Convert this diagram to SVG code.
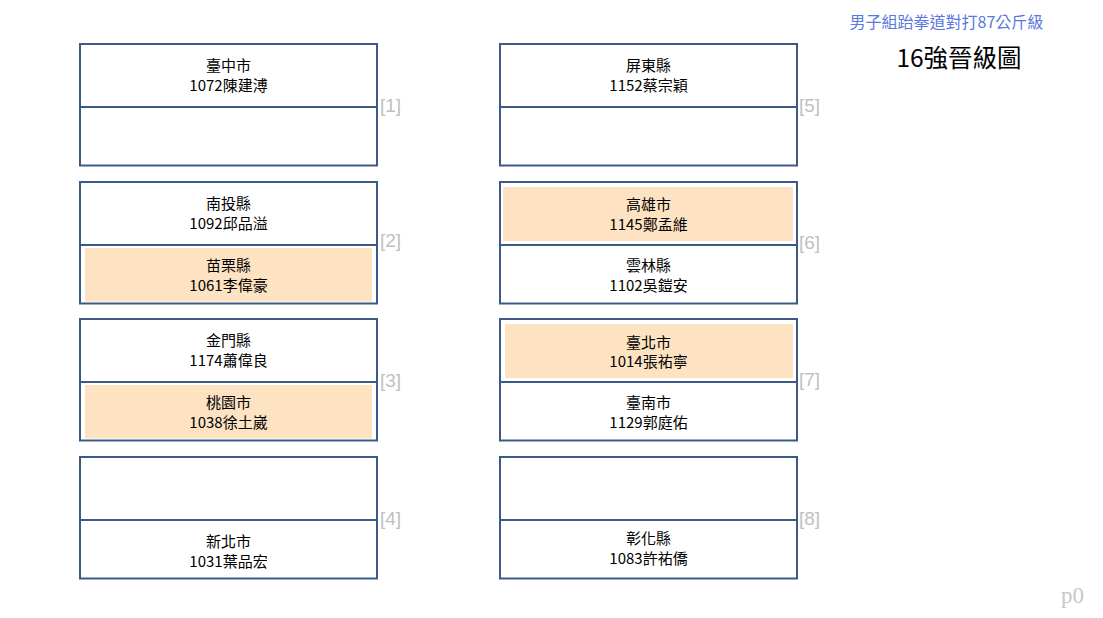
<svg xmlns="http://www.w3.org/2000/svg" width="1103" height="618" viewBox="0 0 1103 618">
<style>
.box{fill:#ffffff;stroke:#3b5a88;stroke-width:2}
.div{stroke:#3b5a88;stroke-width:2}
.win{fill:#fde3c2}
.t{font-family:"Noto Sans CJK TC","Noto Sans CJK SC",sans-serif;font-size:15px;fill:#000;text-anchor:middle}
.lbl{font-family:"Liberation Sans","Noto Sans CJK TC",sans-serif;font-size:19px;fill:#c0c0c0}
.title{font-family:"Noto Sans CJK TC",sans-serif;font-size:16px;fill:#5a78e0;text-anchor:middle}
.sub{font-family:"Noto Sans CJK TC",sans-serif;font-size:24.5px;fill:#000;text-anchor:middle}
.pg{font-family:"Liberation Serif",serif;font-size:23px;fill:#c8c8c8}
</style>
<rect width="1103" height="618" fill="#ffffff"/>
<text class="title" x="946.5" y="28">男子組跆拳道對打87公斤級</text>
<text class="sub" x="959" y="67">16強晉級圖</text>
<g id="connectors"></g>
<g id="m1">
<rect class="box" x="80" y="44" width="297" height="121.5"/>
<line class="div" x1="80" y1="107" x2="377" y2="107"/>
<text class="t" x="228.5" y="70.5">臺中市</text>
<text class="t" x="228.5" y="90.5">1072陳建溥</text>
<text class="lbl" x="380" y="112">[1]</text>
</g>
<g id="m2">
<rect class="box" x="80" y="182" width="297" height="121.5"/>
<line class="div" x1="80" y1="245" x2="377" y2="245"/>
<rect class="win" x="85" y="248" width="287" height="53.5"/>
<text class="t" x="228.5" y="208.5">南投縣</text>
<text class="t" x="228.5" y="228.5">1092邱品溢</text>
<text class="t" x="228.5" y="270.5">苗栗縣</text>
<text class="t" x="228.5" y="290.5">1061李偉豪</text>
<text class="lbl" x="380" y="247">[2]</text>
</g>
<g id="m3">
<rect class="box" x="80" y="319" width="297" height="121.5"/>
<line class="div" x1="80" y1="382" x2="377" y2="382"/>
<rect class="win" x="85" y="385" width="287" height="53.5"/>
<text class="t" x="228.5" y="345.5">金門縣</text>
<text class="t" x="228.5" y="365.5">1174蕭偉良</text>
<text class="t" x="228.5" y="407.5">桃園市</text>
<text class="t" x="228.5" y="427.5">1038徐土崴</text>
<text class="lbl" x="380" y="387">[3]</text>
</g>
<g id="m4">
<rect class="box" x="80" y="457" width="297" height="121.5"/>
<line class="div" x1="80" y1="520" x2="377" y2="520"/>
<text class="t" x="228.5" y="546.5">新北市</text>
<text class="t" x="228.5" y="566.5">1031葉品宏</text>
<text class="lbl" x="380" y="525">[4]</text>
</g>
<g id="m5">
<rect class="box" x="500" y="44" width="297" height="121.5"/>
<line class="div" x1="500" y1="107" x2="797" y2="107"/>
<text class="t" x="648.5" y="70.5">屏東縣</text>
<text class="t" x="648.5" y="90.5">1152蔡宗穎</text>
<text class="lbl" x="799" y="112">[5]</text>
</g>
<g id="m6">
<rect class="box" x="500" y="182" width="297" height="121.5"/>
<line class="div" x1="500" y1="245" x2="797" y2="245"/>
<rect class="win" x="503" y="187" width="290" height="54"/>
<text class="t" x="648.5" y="209.5">高雄市</text>
<text class="t" x="648.5" y="229.5">1145鄭孟維</text>
<text class="t" x="648.5" y="270.5">雲林縣</text>
<text class="t" x="648.5" y="290.5">1102吳鎧安</text>
<text class="lbl" x="799" y="249">[6]</text>
</g>
<g id="m7">
<rect class="box" x="500" y="319" width="297" height="121.5"/>
<line class="div" x1="500" y1="382" x2="797" y2="382"/>
<rect class="win" x="505" y="324" width="288" height="54"/>
<text class="t" x="648.5" y="347.5">臺北市</text>
<text class="t" x="648.5" y="366.5">1014張祐寧</text>
<text class="t" x="648.5" y="407.5">臺南市</text>
<text class="t" x="648.5" y="427.5">1129郭庭佑</text>
<text class="lbl" x="799" y="386">[7]</text>
</g>
<g id="m8">
<rect class="box" x="500" y="457" width="297" height="121.5"/>
<line class="div" x1="500" y1="520" x2="797" y2="520"/>
<text class="t" x="648.5" y="543.5">彰化縣</text>
<text class="t" x="648.5" y="563.5">1083許祐僑</text>
<text class="lbl" x="799" y="525">[8]</text>
</g>
<text class="pg" x="1061" y="603">p0</text>
</svg>
